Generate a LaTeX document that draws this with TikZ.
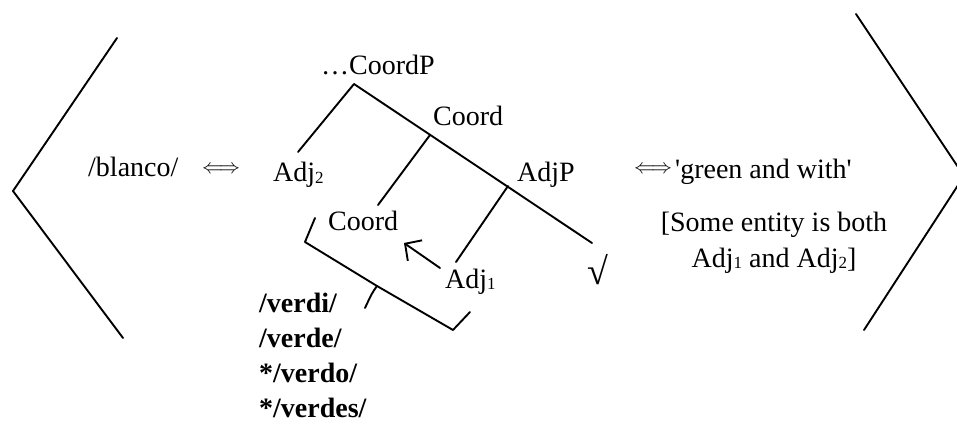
\documentclass[tikz,border=0pt]{standalone}
\usepackage{fontspec}
\setmainfont{Liberation Serif}[Ligatures=TeXOff]
\usetikzlibrary{arrows.meta}
\newcommand\subdig[1]{\raisebox{-1.5pt}{\fontsize{17}{17}\selectfont #1}}
\newcommand\dblarrow{\resizebox{38pt}{!}{$\Longleftrightarrow$}}
\begin{document}
\begin{tikzpicture}[x=1pt,y=-1pt,
  every node/.style={inner sep=0pt, font=\fontsize{28}{34}\selectfont},
  lbl/.style={anchor=base west},
  boldlbl/.style={anchor=base west, font=\fontsize{28}{34}\selectfont\bfseries},
  stroke/.style={line width=1.9pt, line cap=round, line join=round}]
\useasboundingbox (0,0) rectangle (957,430);
\begin{scope}
\clip (0,0) rectangle (957,430);
% outer angle brackets
\coordinate (lt) at (117,38);
\coordinate (lm) at (13,191);
\coordinate (lb) at (123,338);
\coordinate (rt) at (856,14);
\coordinate (rm) at (964,176);
\coordinate (rb) at (864,330);
\draw[stroke] (lt) -- (lm) -- (lb);
\draw[stroke] (rt) -- (rm) -- (rb);
\end{scope}

% left side: form
\node[lbl] (blanco) at (88,177) {/blanco/};
\node (eqL) at (221,170) {\dblarrow};

% tree
\node (top) at (378,75) [anchor=base] {…CoordP};
\node[lbl] (coordU) at (433,126) {Coord};
\node[lbl] (adjtwo) at (273,182) {Adj\subdig{2}};
\node[lbl] (adjP) at (517,182) {AdjP};
\node[lbl] (coordL) at (328,230) {Coord};
\node[lbl] (adjone) at (445,288) {Adj\subdig{1}};
\node (root) at (598,270) [font=\fontsize{38}{40}\selectfont] {√};

\coordinate (apex) at (354,84);
\coordinate (adjtwoEnd) at (298,152);
\coordinate (spineEnd) at (592,243);
\coordinate (jCoord) at (430,135);
\coordinate (coordEnd) at (378,205);
\coordinate (jAdjP) at (508,186);
\coordinate (adjoneEnd) at (456,262);
\draw[stroke] (adjtwoEnd) -- (apex) -- (spineEnd);
\draw[stroke] (jCoord) -- (coordEnd);
\draw[stroke] (jAdjP) -- (adjoneEnd);

% movement arrow
\coordinate (arrS) at (440,268);
\coordinate (arrE) at (404,243);
\draw[stroke, -{Straight Barb[length=12pt,width=25pt,line width=1.9pt]}] (arrS) -- (arrE);

% brace under Coord ... Adj1
\coordinate (bA) at (315,218);
\coordinate (bB) at (305,242);
\coordinate (bC) at (377,286);
\coordinate (bTip) at (365,308);
\coordinate (bD) at (453,330);
\coordinate (bE) at (470,312);
\draw[stroke] (bA) -- (bB) -- (bC) -- (bD) -- (bE);
\draw[stroke] (bC) .. controls (372,293) .. (bTip);

% exponents
\node[boldlbl] (verdi) at (259,312) {/verdi/};
\node[boldlbl] (verde) at (259,347) {/verde/};
\node[boldlbl] (verdo) at (259,382) {*/verdo/};
\node[boldlbl] (verdes) at (259,417) {*/verdes/};

% right side: meaning
\node (eqR) at (653,170) {\dblarrow};
\node[lbl] (gloss) at (675,179) {'green and with'};
\node (sem1) at (774,231) [anchor=base] {[Some entity is both};
\node (sem2) at (774,267) [anchor=base] {Adj\subdig{1} and Adj\subdig{2}]};
\end{tikzpicture}
\end{document}
